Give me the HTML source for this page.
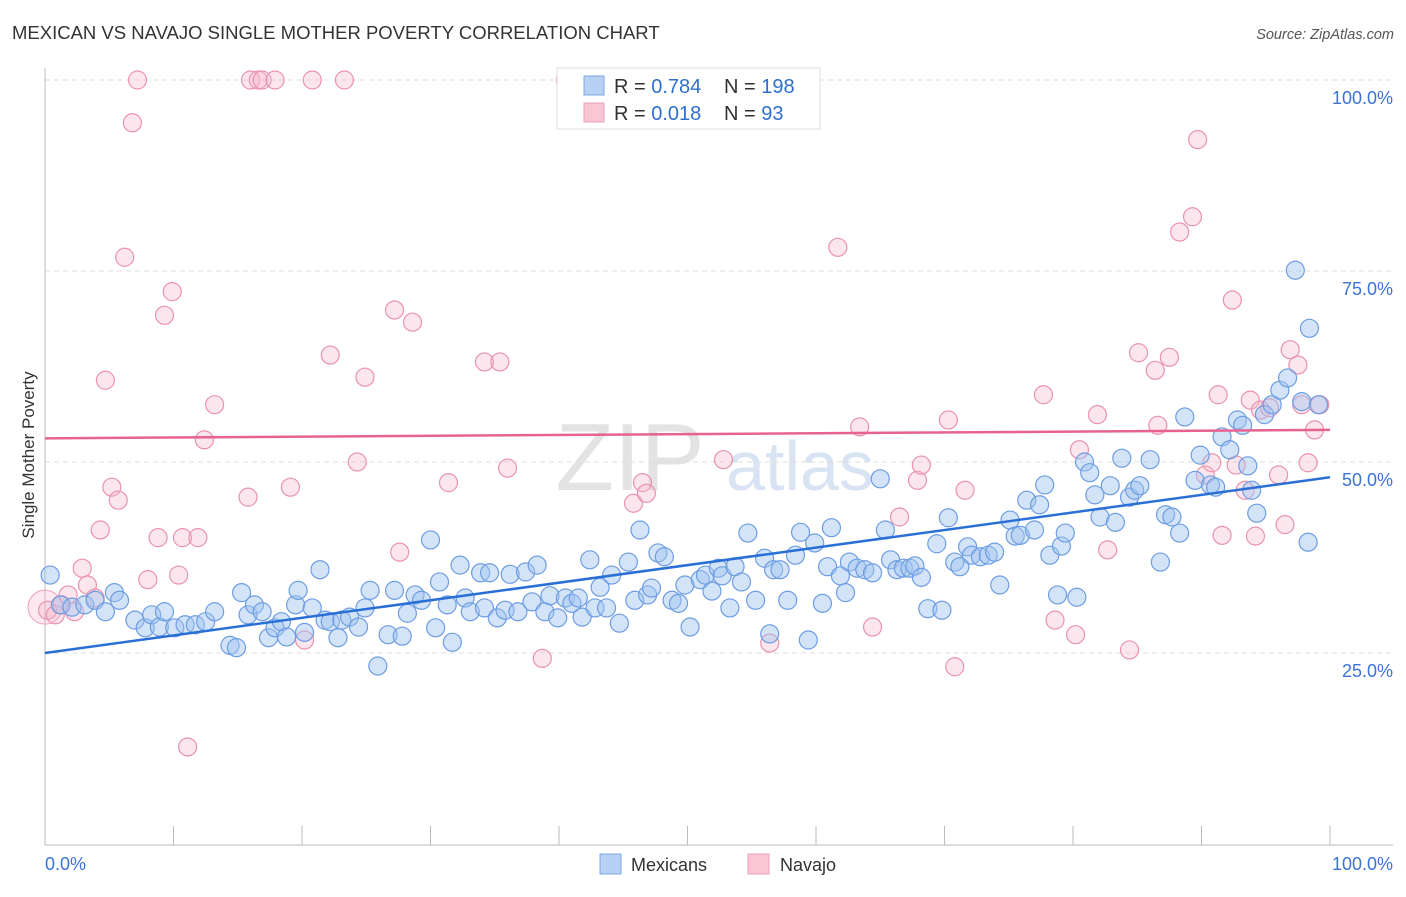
<!DOCTYPE html>
<html><head><meta charset="utf-8"><style>
body{margin:0;background:#fff;font-family:"Liberation Sans",sans-serif;}
svg text{font-family:"Liberation Sans",sans-serif;}
</style></head><body>
<svg id="chart" width="1406" height="892" viewBox="0 0 1406 892" xmlns="http://www.w3.org/2000/svg">
<text x="12" y="39" font-size="18.5" fill="#333">MEXICAN VS NAVAJO SINGLE MOTHER POVERTY CORRELATION CHART</text>
<text x="1394" y="39" font-size="14.5" fill="#555" font-style="italic" text-anchor="end">Source: ZipAtlas.com</text>
<g>
<text x="630" y="490" font-size="96" fill="#d8d8d8" font-family="Liberation Serif" text-anchor="middle" opacity="0.7">ZIP</text>
<text x="800" y="490" font-size="70" fill="#c8d8ee" text-anchor="middle" opacity="0.7">atlas</text>
</g>
<g id="grid"></g>
<g id="axes"></g>
<g id="pink"></g>
<g id="blue"></g>
<g id="lines"></g>
<text transform="translate(34,455) rotate(-90)" font-size="17" fill="#333" text-anchor="middle">Single Mother Poverty</text>
<g>
<rect x="557" y="68" width="263" height="61" fill="#fff" stroke="#ddd"/>
<rect x="584" y="76" width="20" height="19" fill="#b8d0f4" stroke="#7ea6e4"/>
<rect x="584" y="103" width="20" height="19" fill="#f8c6d4" stroke="#eba0b8"/>
<text x="614" y="93" font-size="20" fill="#333">R = <tspan fill="#2f6fd0">0.784</tspan><tspan x="724">N = </tspan><tspan fill="#2f6fd0">198</tspan></text>
<text x="614" y="120" font-size="20" fill="#333">R = <tspan fill="#2f6fd0"> 0.018</tspan><tspan x="724">N = </tspan><tspan fill="#2f6fd0">  93</tspan></text>
</g>
<g>
<rect x="600" y="854" width="21" height="20" fill="#b8d0f4" stroke="#7ea6e4"/>
<text x="631" y="871" font-size="18" fill="#333">Mexicans</text>
<rect x="748" y="854" width="21" height="20" fill="#f8c6d4" stroke="#eba0b8"/>
<text x="780" y="871" font-size="18" fill="#333">Navajo</text>
</g>
</svg>
<script>
const yTicks=[25,50,75,100];
const yTickLabels=["25.0%","50.0%","75.0%","100.0%"];
const xTicks=[0,10,20,30,40,50,60,70,80,90,100];
const xTickLabels=["0.0%","100.0%"];
const blueX=[0.4,1.2,2.1,3.1,3.9,4.7,5.4,5.8,7.0,7.8,8.3,8.9,9.3,10.1,10.9,11.7,12.5,13.2,14.4,14.9,15.3,15.8,16.3,16.9,17.4,17.9,18.4,18.8,19.5,19.7,20.2,20.8,21.4,21.8,22.2,22.8,23.1,23.7,24.4,24.9,25.3,25.9,26.7,27.2,27.8,28.2,28.8,29.3,30.0,30.4,30.7,31.3,31.7,32.3,32.7,33.1,33.9,34.2,34.6,35.2,35.8,36.2,36.8,37.4,37.9,38.3,38.9,39.3,39.9,40.5,41.0,41.5,41.8,42.4,42.8,43.2,43.7,44.1,44.7,45.4,45.9,46.3,46.9,47.2,47.7,48.2,48.8,49.3,50.2,49.8,51.0,51.4,51.9,52.4,52.7,53.3,53.7,54.2,54.7,55.3,56.0,56.4,56.7,57.2,57.8,58.4,58.8,59.4,59.9,60.5,60.9,61.2,61.9,62.3,62.6,63.2,63.8,64.4,65.0,65.4,65.8,66.3,66.8,67.3,67.7,68.2,68.7,69.4,69.8,70.3,70.8,71.2,71.8,72.1,72.8,73.4,73.9,74.3,75.1,75.5,75.9,76.4,77.0,77.4,77.8,78.2,78.8,79.1,79.4,80.3,80.9,81.3,81.7,82.1,82.9,83.3,83.8,84.4,84.8,85.2,86.0,86.8,87.2,87.7,88.3,88.7,89.5,89.9,90.7,91.1,91.6,92.2,92.8,93.2,93.6,93.9,94.3,94.9,95.5,96.1,96.7,97.3,97.8,98.4,99.1,98.3];
const blueY=[35.2,31.3,31.0,31.3,31.9,30.4,32.9,31.9,29.3,28.3,30.0,28.4,30.4,28.3,28.7,28.7,29.1,30.4,26.0,25.7,32.9,30.0,31.3,30.4,27.0,28.3,29.1,27.1,31.3,33.2,27.7,30.9,35.9,29.3,29.1,27.0,29.3,29.7,28.4,30.9,33.2,23.3,27.4,33.2,27.2,30.2,32.6,31.9,39.8,28.3,34.3,31.3,26.4,36.5,32.2,30.4,35.5,30.9,35.5,29.6,30.6,35.3,30.4,35.6,31.7,36.5,30.4,32.5,29.6,32.2,31.5,32.2,29.7,37.2,30.9,33.6,30.9,35.2,28.9,36.9,31.9,41.1,32.6,33.5,38.1,37.6,31.9,31.5,28.4,33.9,34.6,35.2,33.1,36.1,35.1,30.9,36.3,34.3,40.7,31.9,37.4,27.5,35.9,35.9,31.9,37.8,40.8,26.7,39.4,31.5,36.3,41.4,35.1,32.9,36.9,36.1,35.9,35.5,47.8,41.1,37.2,35.9,36.1,36.1,36.4,34.9,30.8,39.3,30.6,42.7,36.9,36.3,38.9,37.8,37.6,37.8,38.2,33.9,42.4,40.3,40.4,45.0,41.1,44.4,47.0,37.8,32.6,39.0,40.7,32.3,50.0,48.6,45.7,42.8,46.9,42.1,50.5,45.4,46.3,46.9,50.3,36.9,43.1,42.8,40.7,55.9,47.6,50.9,47.0,46.7,53.3,51.6,55.5,54.8,49.5,46.3,43.3,56.2,57.5,59.4,61.0,75.1,57.9,67.5,57.5,39.5];
const pinkX=[0.2,0.8,1.3,1.8,2.3,2.9,3.3,3.9,4.3,4.7,5.2,5.7,6.2,6.8,7.2,8.0,8.8,9.3,9.9,10.4,10.7,11.1,11.9,12.4,13.2,15.8,16.0,16.6,16.9,17.9,19.1,20.2,20.8,22.2,23.3,24.3,24.9,27.2,27.6,28.6,31.4,34.2,35.4,36.0,38.7,40.5,45.8,46.5,46.8,52.8,56.4,61.7,63.4,64.4,66.5,67.9,68.2,70.3,70.8,71.6,77.7,78.6,80.2,80.5,81.9,82.7,84.4,85.1,86.4,86.6,87.5,88.3,89.3,89.7,90.3,90.8,91.3,91.6,92.4,92.7,93.4,93.8,94.2,94.6,95.3,96.0,96.5,96.9,97.5,97.8,98.3,98.8,99.2];
const pinkY=[30.6,30.0,31.3,32.6,30.4,36.1,33.9,32.2,41.1,60.7,46.7,45.0,76.8,94.4,100,34.6,40.1,69.2,72.3,35.2,40.1,12.7,40.1,52.9,57.5,45.4,100,100,100,100,46.7,26.7,100,64.0,100,50.0,61.1,69.9,38.2,68.3,47.3,63.1,63.1,49.2,24.3,100,44.6,47.3,45.9,50.3,26.3,78.1,54.6,28.4,42.8,47.6,49.6,55.5,23.2,46.3,58.8,29.3,27.4,51.6,56.2,38.5,25.4,64.3,62.0,54.8,63.7,80.1,82.1,92.2,48.3,49.9,58.8,40.4,71.2,49.6,46.3,58.1,40.3,56.8,57.1,48.3,41.8,64.7,62.7,57.5,49.9,54.2,57.5];
const blueTrend=[25.0,48.0];
const pinkTrend=[53.1,54.2];
const NS="http://www.w3.org/2000/svg";
const X0=45,X1=1330,Y0=844,Y100=80;
function sx(v){return X0+(X1-X0)*v/100;}
function sy(v){return Y0-(Y0-Y100)*v/100;}
function mk(tag,attrs,parent){const e=document.createElementNS(NS,tag);for(const k in attrs)e.setAttribute(k,attrs[k]);parent.appendChild(e);return e;}
const grid=document.getElementById('grid'),axes=document.getElementById('axes');
yTicks.forEach((t,i)=>{
  const l=mk('line',{x1:X0,x2:1393,y1:sy(t),y2:sy(t),stroke:'#ddd','stroke-dasharray':'5,4'},grid);
  
  
  const tx=mk('text',{x:1393,y:sy(t)+24,'font-size':18,fill:'#3b73d6','text-anchor':'end'},axes);
  tx.textContent=yTickLabels[i];
  
  
});
let a=mk('line',{x1:X0,x2:X0,y1:68,y2:845,stroke:'#bbb'},axes);


a=mk('line',{x1:X0,x2:1393,y1:845,y2:845,stroke:'#bbb'},axes);


xTicks.forEach(t=>{
  const l=mk('line',{x1:sx(t),x2:sx(t),y1:826,y2:845,stroke:'#bbb'},axes);
  
  
});
let t1=mk('text',{x:45,y:870,'font-size':18,fill:'#3b73d6'},axes);t1.textContent=xTickLabels[0];


let t2=mk('text',{x:1393,y:870,'font-size':18,fill:'#3b73d6','text-anchor':'end'},axes);t2.textContent=xTickLabels[1];


const pg=document.getElementById('pink');
let big=mk('circle',{cx:sx(0),cy:sy(31),r:17,fill:'rgba(245,180,200,0.3)',stroke:'#eaa0b8'},pg);


pinkX.forEach((x,i)=>{
  const c=mk('circle',{cx:sx(x),cy:sy(pinkY[i]),r:9,fill:'rgba(246,182,202,0.35)',stroke:'#e993ae','stroke-width':1.2},pg);
  
  
});
const bg=document.getElementById('blue');
blueX.forEach((x,i)=>{
  const c=mk('circle',{cx:sx(x),cy:sy(blueY[i]),r:9,fill:'rgba(160,195,240,0.45)',stroke:'#6d9de2','stroke-width':1.2},bg);
  
  
});
const lg=document.getElementById('lines');
let bl=mk('line',{x1:sx(0),x2:sx(100),y1:sy(blueTrend[0]),y2:sy(blueTrend[1]),stroke:'#2a6fd6','stroke-width':2.5},lg);


let pl=mk('line',{x1:sx(0),x2:sx(100),y1:sy(pinkTrend[0]),y2:sy(pinkTrend[1]),stroke:'#e8628f','stroke-width':2.5},lg);


</script>
</body></html>
